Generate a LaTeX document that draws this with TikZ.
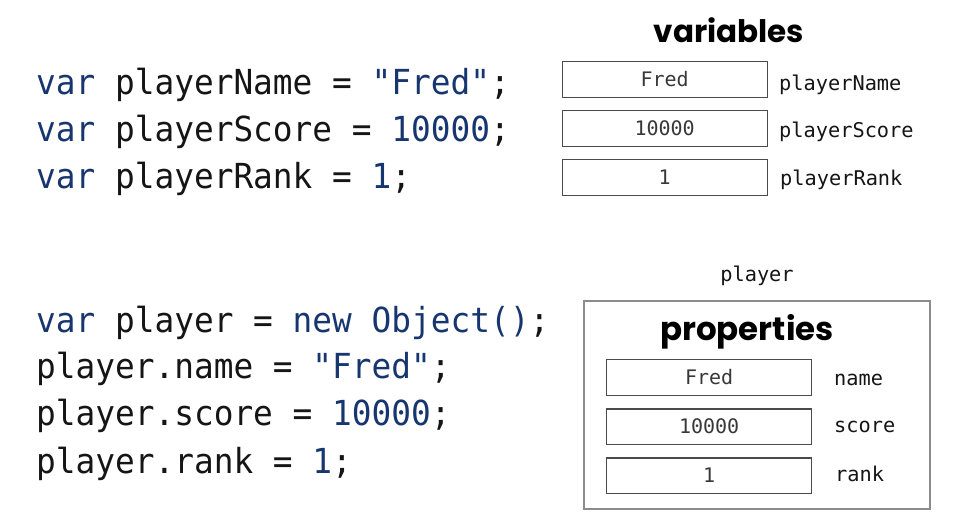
\documentclass[tikz,border=0pt]{standalone}
\usepackage{fontspec}
\newfontfamily\codefont[FakeStretch=0.95]{DejaVu Sans Mono}
\newfontfamily\monofont{DejaVu Sans Mono}
\newfontfamily\headfont{Poppins}
\definecolor{kw}{HTML}{17356F}
\definecolor{txt}{HTML}{151515}
\definecolor{boxline}{HTML}{4A4A4A}
\definecolor{outline}{HTML}{8C8C8C}
\begin{document}
\begin{tikzpicture}[x=1pt,y=-1pt,
  codeline/.style={anchor=base west,inner sep=0pt,font=\codefont\fontsize{34.5}{34.5}\selectfont,text=txt},
  valbox/.style={draw=boxline,line width=1.2pt,minimum width=205pt,minimum height=35.5pt,inner sep=0pt,font=\monofont\fontsize{20}{20}\selectfont,text=txt!85,anchor=north west},
  lbl/.style={anchor=base west,inner sep=0pt,font=\monofont\fontsize{20.3}{20.3}\selectfont,text=txt},
  head/.style={anchor=base,inner sep=0pt,font=\headfont\bfseries\fontsize{31}{31}\selectfont,text=black}]
\useasboundingbox (0,0) rectangle (975,531);
\fill[white] (0,0) rectangle (975,531);
% top code
\node[codeline] (c1) at (36,94) {\textcolor{kw}{var} playerName = \textcolor{kw}{"Fred"};};
\node[codeline] (c2) at (36,141) {\textcolor{kw}{var} playerScore = \textcolor{kw}{10000};};
\node[codeline] (c3) at (36,188) {\textcolor{kw}{var} playerRank = \textcolor{kw}{1};};
% bottom code
\node[codeline] (d1) at (36,332) {\textcolor{kw}{var} player = \textcolor{kw}{new Object()};};
\node[codeline] (d2) at (36,378.5) {player.name = \textcolor{kw}{"Fred"};};
\node[codeline] (d3) at (36,425.5) {player.score = \textcolor{kw}{10000};};
\node[codeline] (d4) at (36,473) {player.rank = \textcolor{kw}{1};};
% variables
\node[head] (vh) at (729,42.5) {variables};
\node[valbox] (v1) at (561.5,61) {Fred};
\node[valbox] (v2) at (561.5,110) {10000};
\node[valbox] (v3) at (561.5,159) {1};
\node[lbl] (vl1) at (779,90) {playerName};
\node[lbl] (vl2) at (779,137) {playerScore};
\node[lbl] (vl3) at (780,185) {playerRank};
% object
\node[lbl,anchor=base] (pl) at (757,281) {player};
\node[draw=outline,line width=2pt,minimum width=346pt,minimum height=208pt,inner sep=0pt,anchor=north west] (obj) at (583,300) {};
\node[head,font=\headfont\bfseries\fontsize{32.5}{32.5}\selectfont] (ph) at (747,340) {properties};
\node[valbox] (p1) at (606,359) {Fred};
\node[valbox] (p2) at (606,408.3) {10000};
\node[valbox] (p3) at (606,457.3) {1};
\node[lbl] (pl1) at (834,385) {name};
\node[lbl] (pl2) at (834,432) {score};
\node[lbl] (pl3) at (835,481) {rank};
\end{tikzpicture}
\end{document}
